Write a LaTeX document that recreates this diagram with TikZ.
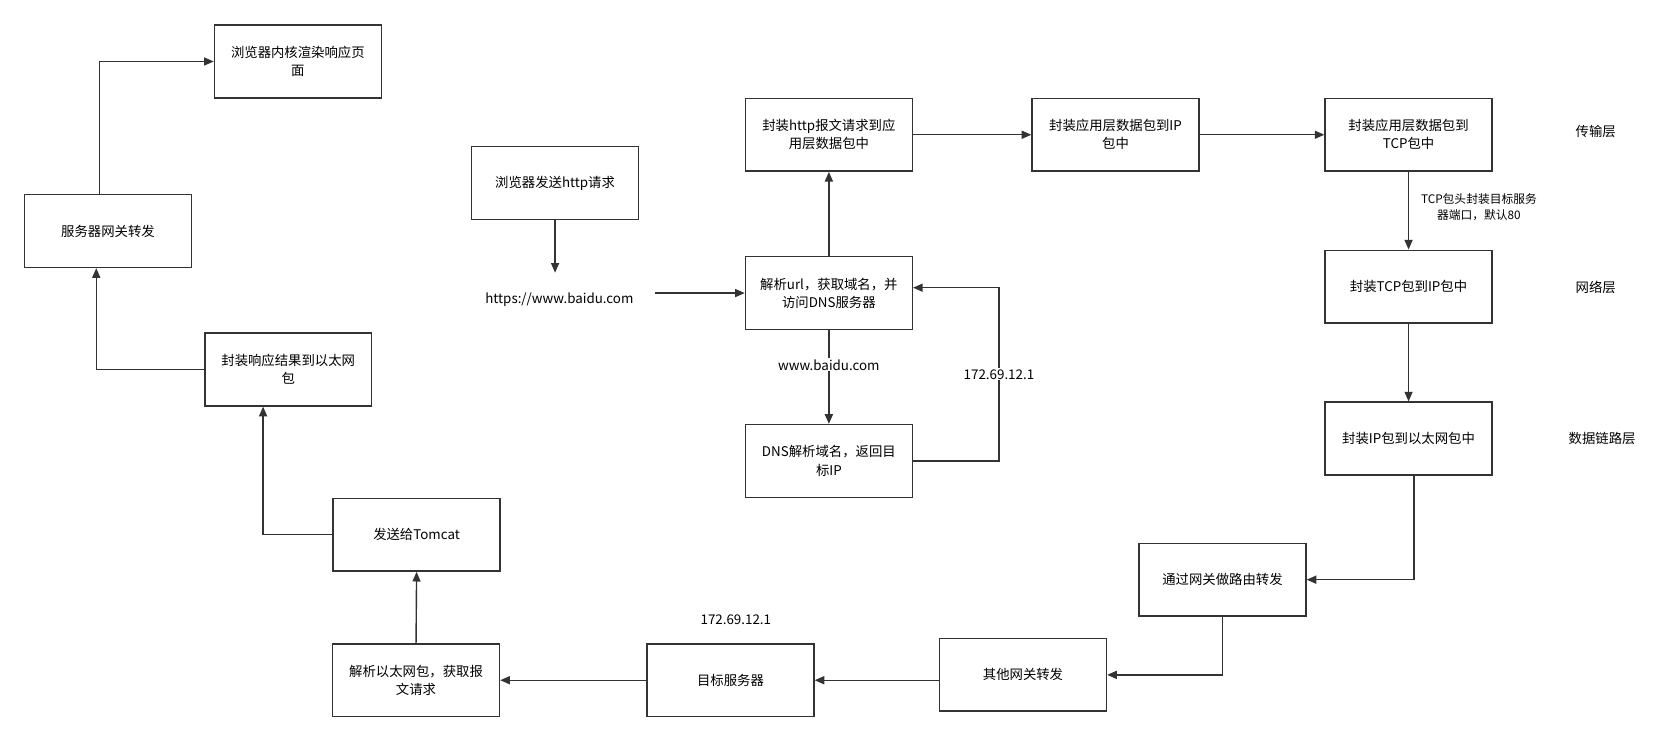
\documentclass[tikz,border=0pt]{standalone}
\usepackage{fontspec}
\setmainfont{Noto Sans CJK SC}
\usetikzlibrary{arrows.meta}
\definecolor{ln}{HTML}{333333}
\tikzset{
  box/.style={draw=ln, line width=1.4pt, minimum width=156pt, minimum height=68pt, align=center, inner sep=2pt, font=\fontsize{12.5pt}{17pt}\selectfont},
  lbl/.style={align=center, inner sep=1pt, font=\fontsize{12.5pt}{17pt}\selectfont},
  small/.style={align=center, inner sep=1pt, font=\fontsize{11pt}{15pt}\selectfont},
  arr/.style={draw=ln, line width=1.3pt, -{Triangle[length=9pt,width=7.5pt]}},
}
\begin{document}
\begin{tikzpicture}[x=1pt,y=-1pt]
\useasboundingbox[fill=white] (0,0) rectangle (1568,694);
% boxes
\node[box] (b1) at (278.5,57.5) {浏览器内核渲染响应页\\面};
\node[box] (b2) at (101,216) {服务器网关转发};
\node[box] (b3) at (269.5,345.5) {封装响应结果到以太网\\包};
\node[box] (b4) at (389.5,500) {发送给Tomcat};
\node[box] (b5) at (389,636) {解析以太网包，获取报\\文请求};
\node[box] (b6) at (683,636) {目标服务器};
\node[box] (b7) at (956.5,631) {其他网关转发};
\node[box] (b8) at (1143,542) {通过网关做路由转发};
\node[box] (b9) at (1317,410) {封装IP包到以太网包中};
\node[box] (b10) at (1317,268) {封装TCP包到IP包中};
\node[box] (b11) at (1317,126) {封装应用层数据包到\\TCP包中};
\node[box] (b12) at (1043,126) {封装应用层数据包到IP\\包中};
\node[box] (b13) at (775,126) {封装http报文请求到应\\用层数据包中};
\node[box] (b14) at (519,171) {浏览器发送http请求};
\node[box] (b15) at (775,274) {解析url，获取域名，并\\访问DNS服务器};
\node[box] (b16) at (775,431) {DNS解析域名，返回目\\标IP};
% free labels
\node[lbl] (url) at (523,280) {https://www.baidu.com};
\node[lbl] (ip2) at (688,579) {172.69.12.1};
\node[lbl] (l1) at (1492,123) {传输层};
\node[lbl] (l2) at (1492,269) {网络层};
\node[lbl] (l3) at (1498,410) {数据链路层};
\coordinate (urltop) at (519,255);
\coordinate (urlout) at (612,274);
\coordinate (ipx) at (934,350);
% connectors
\draw[arr] ([xshift=-8pt]b2.north) |- (b1.west);
\draw[arr] (b3.west) -| ([xshift=-11pt]b2.south);
\draw[arr] (b4.west) -| ([xshift=-23.5pt]b3.south);
\draw[arr] (b5.north) -- (b4.south);
\draw[arr] (b6.west) -- (b5.east);
\draw[arr] (b6.east -| b7.west) -- (b6.east);
\draw[arr] (b8.south) |- (b7.east);
\draw[arr] ([xshift=5pt]b9.south) |- (b8.east);
\draw[arr] (b10.south) -- (b9.north);
\draw[arr] (b11.south) -- node[small, right=10pt, pos=0.45] (tcp) {TCP包头封装目标服务\\器端口，默认80} (b10.north);
\draw[arr] (b12.east) -- (b11.west);
\draw[arr] (b13.east) -- (b12.west);
\draw[arr] (b15.north) -- (b13.south);
\draw[arr] (b14.south) -- (urltop);
\draw[arr] (urlout) -- (b15.west);
\draw[arr] (b15.south) -- node[lbl, fill=white, pos=0.37] (dom) {www.baidu.com} (b16.north);
\draw[arr] (b16.east) -| (ipx) |- ([yshift=5pt]b15.east);
\node[lbl, fill=white] (ip1) at (ipx) {172.69.12.1};
\end{tikzpicture}
\end{document}
